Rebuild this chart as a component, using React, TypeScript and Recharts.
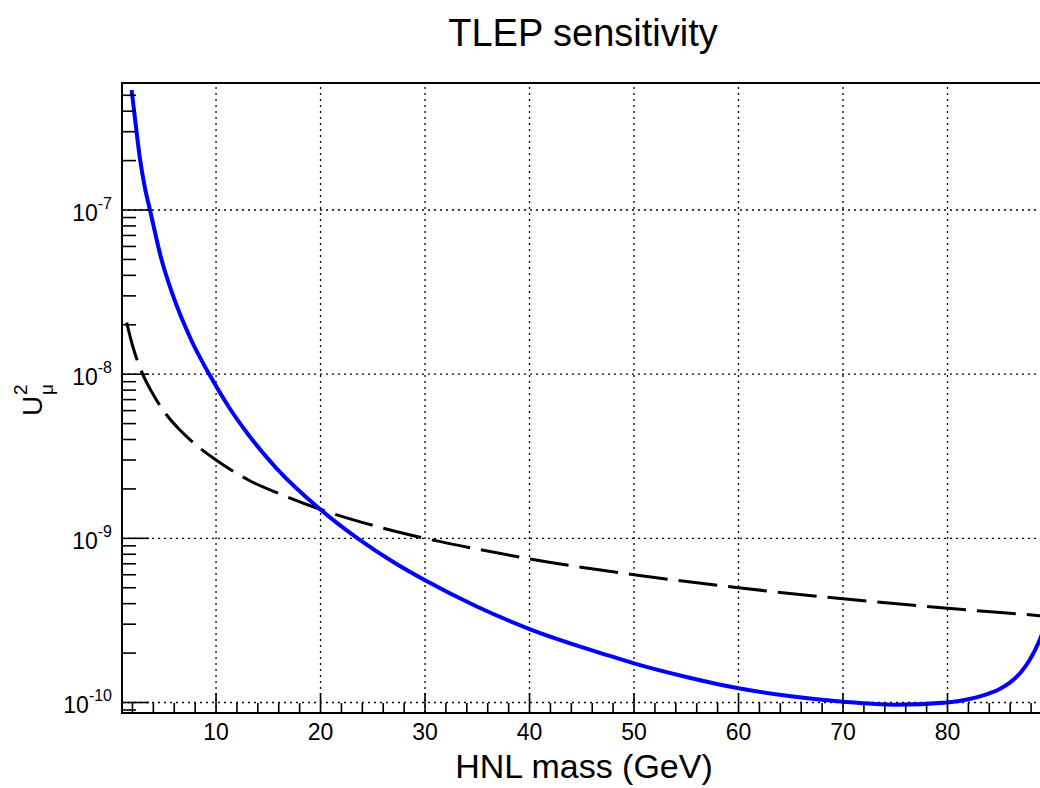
import React from 'react';
import { LineChart, Line, XAxis, YAxis, ReferenceLine, ReferenceArea } from 'recharts';

// Blue solid curve: TLEP sensitivity
const blueMass = [1.92, 2.2, 2.73, 3.2, 3.68, 4.74, 5.85, 7.61, 9.5, 11.3, 13.19, 15.74, 19.98, 23.55, 27, 30, 35, 40, 47.6, 50, 55, 60, 65, 70, 75, 80, 82, 84, 85, 86, 87, 87.8, 88.4, 88.9, 89.4];
const blueU = [5.38e-7, 3.8e-7, 2.03e-7, 1.36e-7, 1e-7, 5.1e-8, 3.05e-8, 1.62e-8, 9.6e-9, 6.2e-9, 4.2e-9, 2.69e-9, 1.5e-9, 1e-9, 7.15e-10, 5.55e-10, 3.83e-10, 2.8e-10, 1.93e-10, 1.73e-10, 1.43e-10, 1.22e-10, 1.09e-10, 1.01e-10, 9.7e-11, 1.0e-10, 1.047e-10, 1.137e-10, 1.21e-10, 1.327e-10, 1.524e-10, 1.79e-10, 2.1e-10, 2.47e-10, 3.0e-10];

// Black dashed curve
const dashMass = [1.45, 2, 2.98, 4, 5.22, 6.5, 8.09, 10, 13.19, 16.06, 20, 25, 30, 35, 40, 50, 60, 70, 80, 88.8, 90];
const dashU = [2.06e-8, 1.5e-8, 1e-8, 7.5e-9, 5.7e-9, 4.6e-9, 3.7e-9, 3.0e-9, 2.25e-9, 1.87e-9, 1.5e-9, 1.2e-9, 1e-9, 8.6e-10, 7.5e-10, 6.0e-10, 5.0e-10, 4.28e-10, 3.75e-10, 3.38e-10, 3.33e-10];

const xMajorTicks = [10, 20, 30, 40, 50, 60, 70, 80];
const xTicks = [2, 4, 6, 8, 10, 12, 14, 16, 18, 20, 22, 24, 26, 28, 30, 32, 34, 36, 38, 40, 42, 44, 46, 48, 50, 52, 54, 56, 58, 60, 62, 64, 66, 68, 70, 72, 74, 76, 78, 80, 82, 84, 86, 88];
const yMajorTicks = [1e-10, 1e-9, 1e-8, 1e-7];
const yMajorLabels = ['-10', '-9', '-8', '-7'];
const yTicks = [
  9e-11,
  1e-10, 2e-10, 3e-10, 4e-10, 5e-10, 6e-10, 7e-10, 8e-10, 9e-10,
  1e-9, 2e-9, 3e-9, 4e-9, 5e-9, 6e-9, 7e-9, 8e-9, 9e-9,
  1e-8, 2e-8, 3e-8, 4e-8, 5e-8, 6e-8, 7e-8, 8e-8, 9e-8,
  1e-7, 2e-7, 3e-7, 4e-7, 5e-7,
];
const X_DOMAIN: [number, number] = [1, 90];
const Y_DOMAIN: [number, number] = [8.63e-11, 5.94e-7];

const TITLE = 'TLEP sensitivity';
const X_LABEL = 'HNL mass (GeV)';

const FONT = '"Liberation Sans", Arial, Helvetica, sans-serif';

const blueData = blueMass.map((m, i) => ({ m, u: blueU[i] }));
const dashData = dashMass.map((m, i) => ({ m, u: dashU[i] }));

const XTick = (props: any) => {
  const { x, y, payload } = props;
  const v = payload.value;
  const major = xMajorTicks.includes(v);
  return (
    <g>
      <line x1={x} y1={y} x2={x} y2={y - (major ? 20 : 10)} stroke="#000" strokeWidth={1.6} />
      {major && (
        <text x={x} y={y + 27} textAnchor="middle" fontSize={23} fill="#000" fontFamily={FONT}>
          {String(v)}
        </text>
      )}
    </g>
  );
};

const YTick = (props: any) => {
  const { x, y, payload } = props;
  const v = payload.value;
  const idx = yMajorTicks.indexOf(v);
  const major = idx >= 0;
  return (
    <g>
      <line x1={x} y1={y} x2={x + (major ? 27 : 14)} y2={y} stroke="#000" strokeWidth={1.6} />
      {major && (
        <text x={x - 10} y={y + 11} textAnchor="end" fontSize={23} fill="#000" fontFamily={FONT}>
          10
          <tspan dy={-12} fontSize={16}>
            {yMajorLabels[idx]}
          </tspan>
        </text>
      )}
    </g>
  );
};

export default function App() {
  return (
    <div style={{ position: 'absolute', left: 0, top: 0, width: 1040, height: 788, overflow: 'hidden', background: '#fff' }}>
      <LineChart width={1060} height={788} margin={{ top: 83, right: 8, bottom: 0, left: 0 }}>
        <XAxis
          type="number"
          dataKey="m"
          domain={X_DOMAIN}
          allowDataOverflow
          ticks={xTicks}
          interval={0}
          tickSize={0}
          tickMargin={0}
          tickLine={false}
          axisLine={false}
          height={75}
          tick={<XTick />}
        />
        <YAxis
          type="number"
          scale="log"
          domain={Y_DOMAIN}
          allowDataOverflow
          ticks={yTicks}
          interval={0}
          tickSize={0}
          tickMargin={0}
          tickLine={false}
          axisLine={false}
          width={122}
          tick={<YTick />}
        />
        {xMajorTicks.map((v) => (
          <ReferenceLine key={'gx' + v} x={v} stroke="#000" strokeWidth={1.3} strokeDasharray="2 4" />
        ))}
        {yMajorTicks.map((v) => (
          <ReferenceLine key={'gy' + v} y={v} stroke="#000" strokeWidth={1.3} strokeDasharray="2 4" />
        ))}
        <ReferenceArea
          x1={X_DOMAIN[0]}
          x2={X_DOMAIN[1]}
          y1={Y_DOMAIN[0]}
          y2={Y_DOMAIN[1]}
          fill="none"
          fillOpacity={0}
          stroke="#000"
          strokeWidth={2}
          ifOverflow="visible"
        />
        <Line
          data={dashData}
          dataKey="u"
          type="monotone"
          stroke="#000"
          strokeWidth={3}
          strokeDasharray="39 11"
          dot={false}
          activeDot={false}
          isAnimationActive={false}
        />
        <Line
          data={blueData}
          dataKey="u"
          type="monotone"
          stroke="#0000ff"
          strokeWidth={4}
          dot={false}
          activeDot={false}
          isAnimationActive={false}
        />
      </LineChart>
      <svg width={1040} height={788} style={{ position: 'absolute', left: 0, top: 0, pointerEvents: 'none' }}>
        <text x={583} y={46} textAnchor="middle" fontSize={38} fill="#000" fontFamily={FONT}>
          {TITLE}
        </text>
        <text x={584} y={778} textAnchor="middle" fontSize={34} fill="#000" fontFamily={FONT}>
          {X_LABEL}
        </text>
        <g transform="translate(42, 416) rotate(-90)">
          <text x={0} y={0} fontSize={28} fill="#000" fontFamily={FONT}>U</text>
          <text x={21} y={-15} fontSize={19} fill="#000" fontFamily={FONT}>2</text>
          <text x={21} y={11} fontSize={19} fill="#000" fontFamily={FONT}>μ</text>
        </g>
      </svg>
    </div>
  );
}
